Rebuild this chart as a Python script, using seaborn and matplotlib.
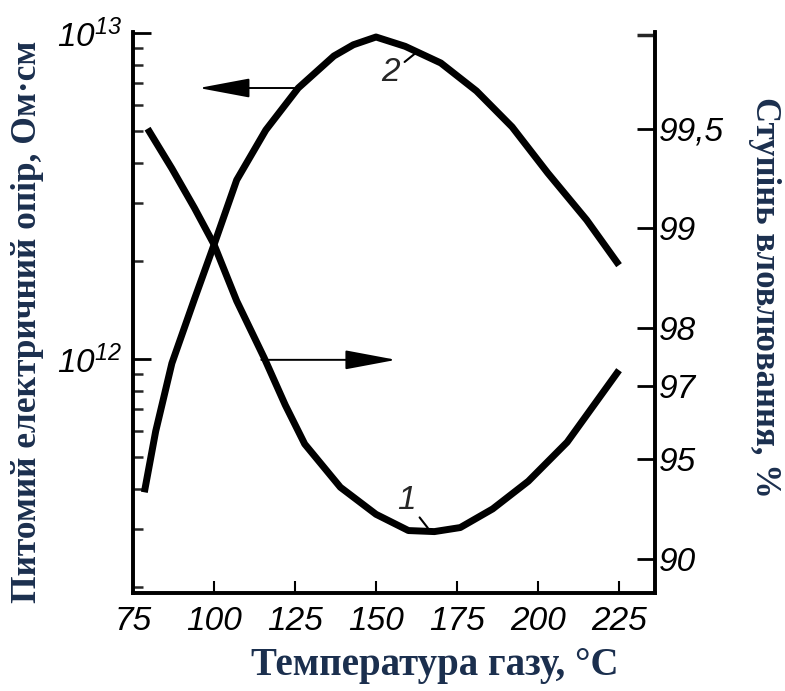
import numpy as np
import pandas as pd
import matplotlib
matplotlib.use("Agg")
import matplotlib.pyplot as plt
import seaborn as sns
from matplotlib.ticker import FixedLocator, NullFormatter, LogLocator, NullLocator

# ---- data ----
temp_res = [78.5, 82, 87, 94, 100, 107, 116, 126, 137, 143, 150, 159, 170, 181, 192, 203, 215, 225]
resistivity = [3.9e11, 6.0e11, 9.7e11, 1.53e12, 2.24e12, 3.54e12, 5.04e12, 6.78e12,
               8.5e12, 9.2e12, 9.72e12, 9.1e12, 8.09e12, 6.64e12, 5.15e12, 3.72e12, 2.67e12, 1.94e12]

temp_eff = [79.5, 87, 94, 100, 107, 115.5, 122, 128, 139, 150, 160, 168, 176, 186, 197, 209, 225]
efficiency = [99.50, 99.34, 99.13, 98.88, 98.34, 97.53, 96.57, 95.50, 93.92, 92.66,
              91.78, 91.72, 91.95, 92.93, 94.17, 95.56, 97.31]

x_ticks = [75, 100, 125, 150, 175, 200, 225]
left_ticks = [1e12, 1e13]
left_labels = [r"$\mathrm{10^{12}}$", r"$\mathrm{10^{13}}$"]
right_ticks = [90, 95, 97, 98, 99, 99.5]
right_labels = ["90", "95", "97", "98", "99", "99,5"]

xlabel = "Температура газу, °C"
ylabel_left = "Питомий електричний опір, Ом·см"
ylabel_right = "Ступінь вловлювання, %"

# ---- style ----
sns.set_theme(style="ticks")
plt.rcParams["font.family"] = ["Liberation Sans Narrow", "Liberation Sans", "DejaVu Sans"]
plt.rcParams["font.style"] = "italic"
plt.rcParams["mathtext.fontset"] = "custom"
plt.rcParams["mathtext.rm"] = "Liberation Sans:italic"
plt.rcParams["mathtext.it"] = "Liberation Sans:italic"

navy = "#1b2f4e"
tick_fs = 24

fig = plt.figure(figsize=(7.85, 6.91), dpi=100)
ax = fig.add_axes([133 / 785, 1 - 593 / 691, 522 / 785, 561 / 691])
ax2 = ax.twinx()
ax2.set_position(ax.get_position())

df_res = pd.DataFrame({"T": temp_res, "R": resistivity})
df_eff = pd.DataFrame({"T": temp_eff, "E": efficiency})

sns.lineplot(data=df_res, x="T", y="R", ax=ax, color="black", linewidth=5,
             solid_capstyle="butt", solid_joinstyle="round")
sns.lineplot(data=df_eff, x="T", y="E", ax=ax2, color="black", linewidth=5,
             solid_capstyle="butt", solid_joinstyle="round")

# left: log scale
ax.set_yscale("log")
ax.set_ylim(1.915e11, 1.007e13)
ax.set_xlim(75, 236.1)
ax.yaxis.set_major_locator(FixedLocator(left_ticks))
ax.set_yticklabels(left_labels)
ax.yaxis.set_minor_locator(LogLocator(base=10, subs=np.arange(2, 10)))
ax.yaxis.set_minor_formatter(NullFormatter())
ax.set_xticks(x_ticks)
ax.set_xticklabels([str(v) for v in x_ticks])
ax.xaxis.set_minor_locator(NullLocator())


# right: penetration log scale
def fwd(y):
    y = np.asarray(y, dtype=float)
    return -np.log10(np.clip(100 - y, 1e-9, None))


def inv(v):
    v = np.asarray(v, dtype=float)
    return 100 - 10 ** (-v)


ax2.set_yscale("function", functions=(fwd, inv))
ax2.set_ylim(87.3, 99.745)
ax2.yaxis.set_major_locator(FixedLocator(right_ticks))
ax2.set_yticklabels(right_labels)
ax2.yaxis.set_minor_locator(FixedLocator([99.74]))
ax2.yaxis.set_minor_formatter(NullFormatter())

for a in (ax, ax2):
    a.spines["top"].set_visible(False)
    for s in a.spines.values():
        s.set_linewidth(2.6)
        s.set_color("black")
    a.set_xlabel("")
    a.set_ylabel("")

ax.tick_params(axis="y", which="major", direction="in", length=13, width=2,
               labelsize=tick_fs, pad=8, colors="black")
ax.tick_params(axis="y", which="minor", direction="in", length=7, width=1.8)
ax.tick_params(axis="x", which="major", direction="in", length=9, width=1.5,
               labelsize=tick_fs, pad=9, colors="black")
ax2.tick_params(axis="y", which="major", direction="in", length=13, width=2,
                labelsize=tick_fs, pad=3, colors="black")
ax2.tick_params(axis="y", which="minor", direction="in", length=13, width=2.5)

# arrows
arrow_style = "-|>,head_length=3.2,head_width=0.6"
ax.annotate("", xy=(95.3, 6.78e12), xytext=(125, 6.78e12),
            arrowprops=dict(arrowstyle=arrow_style, mutation_scale=10, lw=1.4,
                            color="black", shrinkA=0, shrinkB=0))
ax.annotate("", xy=(156.2, 9.94e11), xytext=(114.6, 9.94e11),
            arrowprops=dict(arrowstyle=arrow_style, mutation_scale=10, lw=1.4,
                            color="black", shrinkA=0, shrinkB=0))

# curve labels
ax.annotate("2", xy=(162.3, 8.69e12), xytext=(154.6, 7.54e12),
            fontsize=tick_fs, ha="center", va="center",
            arrowprops=dict(arrowstyle="-", lw=1.5, color="black", shrinkA=1, shrinkB=0))
ax.annotate("1", xy=(166, 3.03e11), xytext=(159.3, 3.69e11),
            fontsize=tick_fs, ha="center", va="center",
            arrowprops=dict(arrowstyle="-", lw=1.5, color="black", shrinkA=1, shrinkB=0))

# axis titles
lab_kw = dict(family=["Liberation Serif", "DejaVu Serif"], fontweight="bold",
              fontstyle="normal", color=navy)
fig.text(435 / 785, 1 - 666 / 691, xlabel, ha="center", va="center",
         fontsize=28, **lab_kw)
fig.text(28 / 785, 1 - 322 / 691, ylabel_left, ha="center", va="center",
         rotation=90, fontsize=25.5, **lab_kw)
fig.text(765 / 785, 1 - 297 / 691, ylabel_right, ha="center", va="center",
         rotation=-90, fontsize=25, **lab_kw)

fig.savefig("out.png", dpi=100)
